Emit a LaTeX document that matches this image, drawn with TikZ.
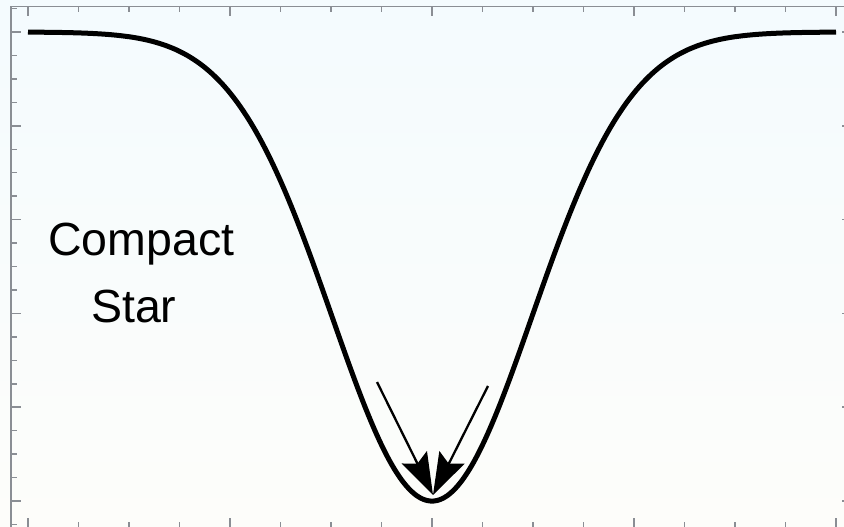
\documentclass[tikz,border=0pt]{standalone}
\usepackage{fontspec}
\setmainfont{Liberation Sans}
\usetikzlibrary{arrows.meta}
\definecolor{framegray}{RGB}{138,142,148}
\definecolor{bgtop}{RGB}{244,251,254}
\definecolor{bgbot}{RGB}{253,253,250}
\tikzset{
  frameline/.style={draw=framegray, line width=1.6pt},
  tickline/.style={draw=framegray, line width=1.5pt},
  wellcurve/.style={draw=black, line width=5pt},
  fallarrow/.style={draw=black, line width=2.3pt, -{Stealth[length=42pt,width=28pt,inset=7pt]}},
  label/.style={inner sep=0pt, font=\fontsize{46.5}{67}\selectfont}
}
\begin{document}
\begin{tikzpicture}[x=1pt,y=-1pt]
\useasboundingbox (0,0) rectangle (844,527);
\clip (0,0) rectangle (844,527);
\shade[top color=bgtop, bottom color=bgbot] (0,0) rectangle (844,527);
% frame
\draw[frameline] (11,530) -- (11,6.5) -- (852,6.5);
% left ticks
\foreach \k in {-1,...,21}{
  \pgfmathsetmacro{\yy}{32+23.45*\k}
  \pgfmathtruncatemacro{\m}{mod(\k+40,4)}
  \ifnum\m=0
    \draw[tickline] (11,\yy) -- (21,\yy);
  \else
    \draw[tickline] (11,\yy) -- (17,\yy);
  \fi
}
% right ticks
\foreach \k in {0,...,20}{
  \pgfmathsetmacro{\yy}{32+23.45*\k}
  \pgfmathtruncatemacro{\m}{mod(\k,4)}
  \ifnum\m=0
    \draw[tickline] (852,\yy) -- (842,\yy);
  \fi
}
% top and bottom ticks
\foreach \k in {0,...,16}{
  \pgfmathsetmacro{\xx}{28+50.5*\k}
  \pgfmathtruncatemacro{\m}{mod(\k,4)}
  \ifnum\m=0
    \draw[tickline] (\xx,6.5) -- (\xx,16);
    \draw[tickline] (\xx,528) -- (\xx,518);
  \else
    \draw[tickline] (\xx,6.5) -- (\xx,12.5);
    \draw[tickline] (\xx,528) -- (\xx,522);
  \fi
}
% potential well
\draw[wellcurve] plot[domain=28:836, samples=240, smooth]
  (\x,{32+469*exp(-0.5*((\x-432)/100)^2)});
% labels
\node[label, anchor=base west] (compact) at (48,255) {Compact};
\node[label, anchor=base west] (star) at (91,322) {Star};
% arrows
\coordinate (la) at (377,382);
\coordinate (ra) at (488,386);
\coordinate (tip) at (433,495);
\draw[fallarrow] (la) -- (tip);
\draw[fallarrow] (ra) -- (tip);
\end{tikzpicture}
\end{document}
